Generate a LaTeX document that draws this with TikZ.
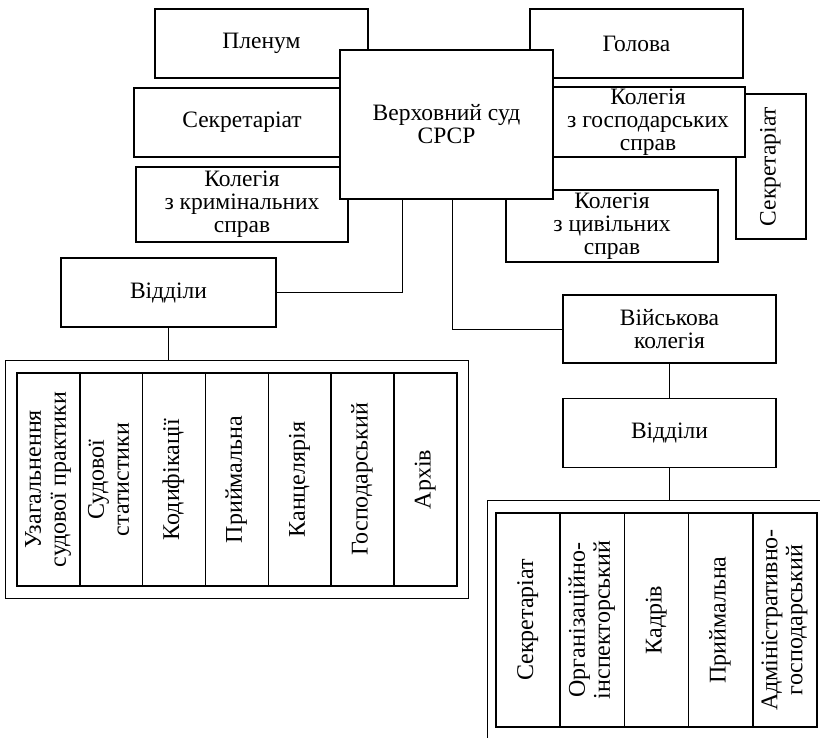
\documentclass[tikz,border=0pt]{standalone}
\usepackage{fontspec}
\setmainfont{Liberation Serif}
\usetikzlibrary{positioning, fit}
\tikzset{
  block/.style = {rectangle, draw=black, line width=1.6pt, fill=white, align=center, inner sep=2pt, font=\fontsize{23.5}{23}\selectfont},
  col/.style = {rectangle, draw=black, line width=1.6pt, fill=white, inner sep=0pt, outer sep=0pt, font=\fontsize{24}{25}\selectfont},
  frame/.style = {rectangle, draw=black, line width=0.8pt},
  line/.style = {draw=black, line width=0.8pt}
}
\newcommand{\uprot}[1]{\rotatebox{90}{\begin{tabular}{@{}c@{}}#1\end{tabular}}}

\begin{document}
\begin{tikzpicture}[x=1pt, y=-1pt]
\useasboundingbox (0,0) rectangle (820,738);

\node[block, minimum width=213pt, minimum height=69pt] (plen) at (261.5,43.5) {Пленум};
\node[block, minimum width=213pt, minimum height=69pt] (head) at (636.5,43.5) {Голова};
\node[block, minimum width=216pt, minimum height=69pt] (secl) at (242,122.5) {Секретаріат};
\node[block, minimum width=212pt, minimum height=75pt] (crim) at (242,204.5) {Колегія\\ з кримінальних\\ справ};
\node[block, minimum width=70pt, minimum height=145pt] (secr) at (771,166.5) {\uprot{Секретаріат}};
\node[block, minimum width=194pt, minimum height=68pt] (econ) at (648,122) {Колегія\\ з господарських\\ справ};
\node[block, minimum width=212pt, minimum height=72pt] (civ) at (612,226) {Колегія\\ з цивільних\\ справ};
\node[block, minimum width=213pt, minimum height=149pt] (court) at (446.5,124.5) {Верховний суд\\ СРСР};

\node[block, minimum width=215pt, minimum height=69pt] (deps) at (168.5,292.5) {Відділи};
\node[block, minimum width=213pt, minimum height=68pt] (mil) at (669.5,329) {Військова\\ колегія};
\node[block, minimum width=213pt, minimum height=69pt, below=34pt of mil] (mdeps) {Відділи};

% departments of the court
\node[col, minimum width=62.86pt, minimum height=213pt] (u1) at (48.4,479.5) {\uprot{Узагальнення\\ судової практики}};
\node[col, minimum width=62.86pt, minimum height=213pt, right=0pt of u1] (u2) {\uprot{Судової\\ статистики}};
\node[col, minimum width=62.86pt, minimum height=213pt, right=0pt of u2] (u3) {\uprot{Кодифікації}};
\node[col, minimum width=62.86pt, minimum height=213pt, right=0pt of u3] (u4) {\uprot{Приймальна}};
\node[col, minimum width=62.86pt, minimum height=213pt, right=0pt of u4] (u5) {\uprot{Канцелярія}};
\node[col, minimum width=62.86pt, minimum height=213pt, right=0pt of u5] (u6) {\uprot{Господарський}};
\node[col, minimum width=62.86pt, minimum height=213pt, right=0pt of u6] (u7) {\uprot{Архів}};
\node[frame, inner xsep=11.5pt, inner ysep=12.5pt, fit=(u1)(u7)] (lframe) {};

% departments of the military board
\node[col, minimum width=64.2pt, minimum height=214pt] (m1) at (528.1,620) {\uprot{Секретаріат}};
\node[col, minimum width=64.2pt, minimum height=214pt, right=0pt of m1] (m2) {\uprot{Організаційно-\\ інспекторський}};
\node[col, minimum width=64.2pt, minimum height=214pt, right=0pt of m2] (m3) {\uprot{Кадрів}};
\node[col, minimum width=64.2pt, minimum height=214pt, right=0pt of m3] (m4) {\uprot{Приймальна}};
\node[col, minimum width=64.2pt, minimum height=214pt, right=0pt of m4] (m5) {\uprot{Адміністративно-\\ господарський}};
\node[frame, inner xsep=9pt, inner ysep=13pt, fit=(m1)(m5)] (rframe) {};

\draw[line] ([xshift=63pt]court.south west) |- (deps.east);
\draw[line] ([xshift=113pt]court.south west) |- (mil.west);
\draw[line] (mil) -- (mdeps);
\draw[line] (deps.south) -- (deps.south |- lframe.north);
\draw[line] (mdeps.south) -- (mdeps.south |- rframe.north);
\end{tikzpicture}
\end{document}
